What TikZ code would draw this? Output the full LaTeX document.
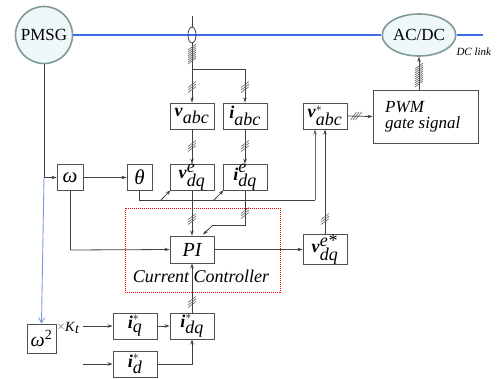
\documentclass[tikz,border=0pt]{standalone}
\usepackage{fontspec}
\setmainfont{Liberation Serif}
\usetikzlibrary{arrows.meta,shapes.geometric,calc}
\definecolor{circfill}{HTML}{EEF8F8}
\definecolor{circedge}{HTML}{809A9A}
\definecolor{busblue}{HTML}{3D6FE8}
\definecolor{lightblue}{HTML}{7A9BDD}
\definecolor{boxedge}{HTML}{505050}
\definecolor{wire}{HTML}{404040}
\newcommand{\bv}{\textbf{\textit{v}}}
\newcommand{\bi}{\textbf{\textit{i}}}
\newcommand{\ti}[1]{\textit{#1}}
\begin{document}
\begin{tikzpicture}[x=1pt,y=-1pt,
  blk/.style={draw=boxedge,line width=0.9pt,minimum width=44pt,minimum height=26pt,inner sep=0pt,font=\fontsize{18}{20}\selectfont},
  sblk/.style={blk,minimum width=26pt},
  mach/.style={draw=circedge,line width=1.6pt,fill=circfill,inner sep=0pt,font=\fontsize{17}{19}\selectfont},
  wr/.style={draw=wire,line width=0.8pt},
  arr/.style={wr,-{Stealth[length=5pt,width=3.5pt]}},
  hl/.style={draw=gray!80!black,line width=0.6pt},
  bus/.style={draw=busblue,line width=1.5pt},
]
\useasboundingbox (0,0) rectangle (497,378);

% machines
\node[mach,circle,minimum size=57pt] (pmsg) at (44,35) {PMSG};
\node[mach,ellipse,minimum width=67pt,minimum height=42pt] (acdc) at (419,35) {AC/DC};
\coordinate (dcend) at (483,35);
\draw[bus] (pmsg.east) -- (acdc.west);
\draw[bus] (acdc.east) -- (dcend);
\node[font=\fontsize{11}{12}\selectfont\itshape,anchor=west] (dclink) at (453,52) {DC link};

% current/voltage sensor
\node[draw=wire,line width=0.8pt,ellipse,minimum width=8pt,minimum height=16pt,inner sep=0pt] (sens) at (192,35) {};
\coordinate (stop) at (192,16);
\draw[wr] (stop) -- (sens.north);

% blocks
\node[blk] (vabc) at (192,116) {$\bv_{\ti{abc}}$};
\node[blk] (iabc) at (245,116) {$\bi_{\ti{abc}}$};
\node[blk] (vdq) at (192,177.5) {$\bv^{\ti{e}}_{\ti{dq}}$};
\node[blk] (idq) at (245,177.5) {$\bi^{\ti{e}}_{\ti{dq}}$};
\node[sblk,font=\fontsize{21}{22}\selectfont\itshape] (om) at (70,177.5) {ω};
\node[sblk,minimum width=25pt,font=\fontsize{21}{22}\selectfont\itshape] (th) at (139.5,177.5) {θ};
\node[blk,minimum height=27pt,font=\fontsize{20}{22}\selectfont\itshape] (pi) at (192,249.5) {PI};
\node[blk,minimum height=27pt] (vdqs) at (325,249.5) {$\bv^{\ti{e*}}_{\ti{dq}}$};
\node[blk] (vabcs) at (325,116) {$\bv^{*}_{\ti{abc}}$};
\node[draw=boxedge,line width=0.9pt,minimum width=105pt,minimum height=53pt,inner sep=0pt] (pwm) at (425.5,116.5) {};
\node[anchor=west,font=\fontsize{17}{18}\selectfont\itshape,inner sep=0pt] (pwmt) at (385,107) {PWM};
\node[anchor=west,font=\fontsize{17}{18}\selectfont\itshape,inner sep=0pt] (gate) at (385,124) {gate signal};
\node[blk,minimum width=29pt,minimum height=29pt,font=\fontsize{20}{22}\selectfont] (om2) at (41.5,338.5) {\textit{ω}\textsuperscript{2}};
\node[blk] (iqs) at (135,326) {$\bi^{*}_{\ti{q}}$};
\node[blk] (idqs) at (192,326) {$\bi^{*}_{\ti{dq}}$};
\node[blk] (ids) at (135,364) {$\bi^{*}_{\ti{d}}$};
\node[anchor=west,inner sep=0pt,font=\fontsize{14}{16}\selectfont] (kt) at (57,328) {\textcolor{gray}{×}\textit{K}$_{\ti{t}}$};

% current controller frame
\draw[red,densely dotted,line width=1pt] (125,208) rectangle (280,292);
\node[font=\fontsize{18}{20}\selectfont\itshape,inner sep=0pt] (cc) at (201,276) {Current Controller};

% measurement wiring
\coordinate (br) at (192,69);
\draw[wr] (sens.south) -- (br);
\draw[arr] (br) -- (vabc.north);
\draw[arr] (br) -| (iabc.north);
\draw[arr] (vabc.south) -- (vdq.north);
\draw[arr] (iabc.south) -- (idq.north);

% speed path
\coordinate (pj) at (44,177.5);
\draw[wr] (pmsg.south) -- (pj);
\draw[arr] (pj) -- (om.west);
\draw[draw=lightblue,line width=0.9pt,-{Straight Barb[length=5pt,width=6pt]}] (pj) -- (om2.north);
\draw[arr] (om.east) -- (th.west);
\coordinate (omb) at (70,250);
\draw[wr] (om.south) -- (omb);
\draw[arr] (omb) -- (pi.west);

% theta distribution
\coordinate (thb) at (139.5,200);
\coordinate (thr) at (315,200);
\coordinate (t1) at (161,200);
\coordinate (t2) at (214,200);
\draw[wr] (th.south) -- (thb) -- (thr);
\draw[draw=gray!80!black,line width=0.9pt,-{Stealth[length=5pt,width=3.5pt]}] (thr) -- (thr |- vabcs.south);
\draw[arr] (t1) -- ($(vdq.south west)+(1,-1)$);
\draw[arr] (t2) -- ($(idq.south west)+(1,-1)$);

% to PI
\draw[arr] (vdq.south) -- (pi.north);
\coordinate (ic1) at (245,225);
\coordinate (ic2) at (213,225);
\draw[wr] (idq.south) -- (ic1) -- (ic2);
\draw[arr] (ic2) -- ($(pi.north)+(11,-1)$);
\draw[arr] (pi.east) -- (vdqs.west);
\draw[arr] (vdqs.north) -- (vabcs.south);
\draw[arr] (vabcs.east) -- (pwm.west);
\draw[arr] (pwm.north -| acdc.south) -- (acdc.south);

% references
\coordinate (iqin) at (83,326);
\coordinate (idin) at (83,364);
\draw[arr] (iqin) -- (iqs.west);
\draw[arr] (iqs.east) -- (idqs.west);
\draw[arr] (idin) -- (ids.west);
\draw[arr] (ids.east) -| (idqs.south);
\draw[arr] (idqs.north) -- (pi.south);

% hatch marks (vertical lines)
\foreach \x/\y in {192/87, 245/87, 192/146, 245/146, 192/219, 245/213, 325/219, 192/302}{
  \foreach \d in {-2.5,0,2.5}
    \draw[hl] (\x-4,\y+\d+3) -- (\x+4,\y+\d-3);
}
% dense hatch below sensor
\foreach \d in {0,2,...,14}
  \draw[hl] (188,47+\d+3) -- (196,47+\d-3);
% dense hatch PWM -> AC/DC
\foreach \d in {0,2,...,18}
  \draw[hl] (415,66+\d+3) -- (423,66+\d-3);
% hatch on horizontal line
\foreach \d in {-2.5,0,2.5}
  \draw[hl] (356+\d-3,120) -- (356+\d+3,112);
\end{tikzpicture}
\end{document}
